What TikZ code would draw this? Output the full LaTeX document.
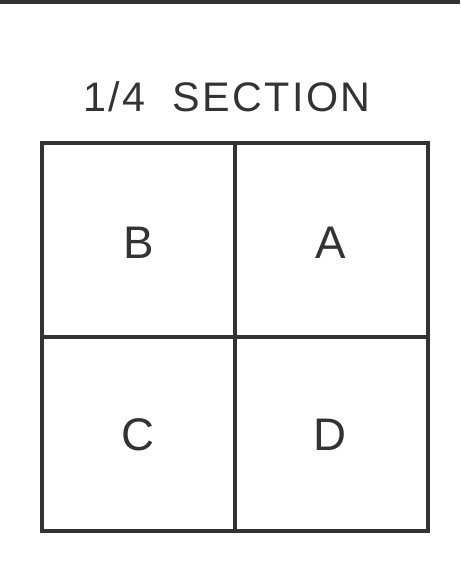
\documentclass[tikz,border=0pt]{standalone}
\usepackage{fontspec}
\setmainfont{Liberation Sans}
\newfontfamily\plotfont[LetterSpace=6]{Liberation Sans}
\usetikzlibrary{positioning}
\definecolor{trait}{gray}{0.2}

\begin{document}
\begin{tikzpicture}[x=0.02cm, y=-0.02cm]
	\tikzset{
		titre/.style={font=\plotfont\fontsize{23.5}{28}\selectfont, text=trait, anchor=base},
		lettre/.style={font=\plotfont\fontsize{26}{30}\selectfont, text=trait},
		grille/.style={draw=trait, line width=2pt}
	}
	\useasboundingbox (0,0) rectangle (460,567);

	% Bord du haut
	\draw[trait, line width=3pt] (0,1.5) -- (460,1.5);

	% Titre
	\node[titre] (titre) at (227,112) {1/4\hspace{0.3em} SECTION};

	% Quadrillage
	\draw[grille] (42,143) rectangle (428,531);
	\draw[grille] (235,143) -- (235,531);
	\draw[grille] (42,337) -- (428,337);

	% Quarts
	\node[lettre] (B) at (139,243) {B};
	\node[lettre] (A) at (331,243) {A};
	\node[lettre] (C) at (138,435) {C};
	\node[lettre] (D) at (330,435) {D};

\end{tikzpicture}
\end{document}
